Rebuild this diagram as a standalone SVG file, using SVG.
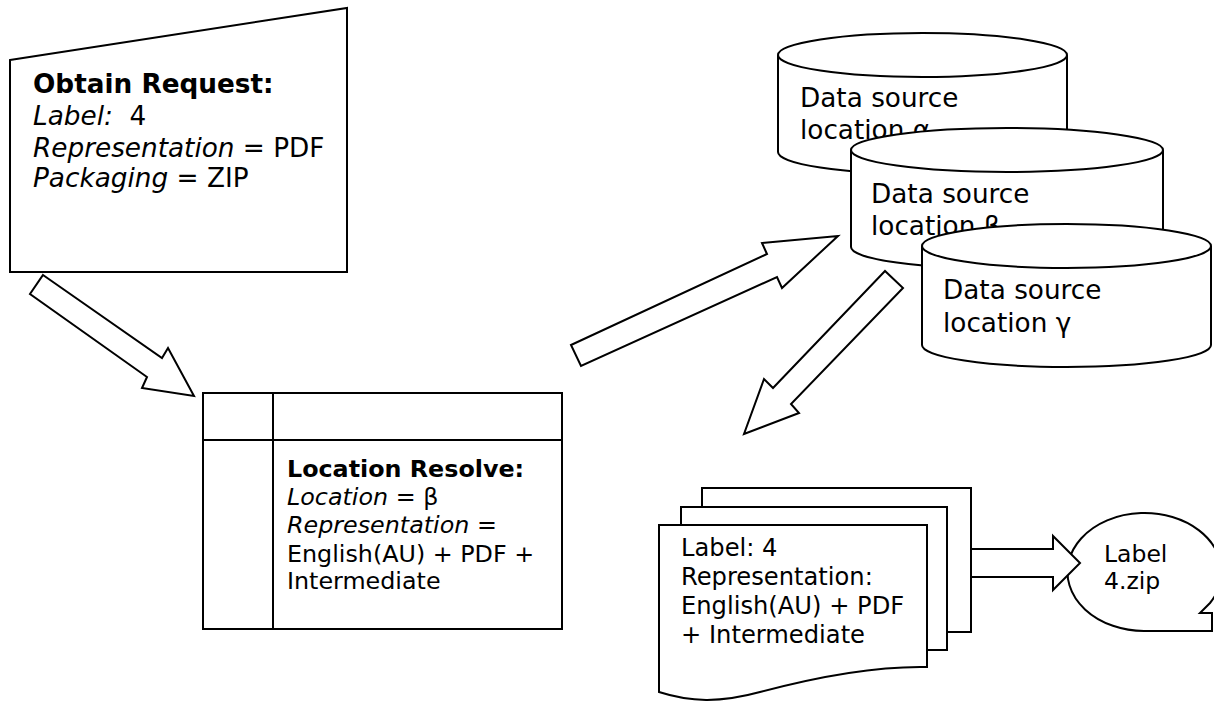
<svg xmlns="http://www.w3.org/2000/svg" width="1214" height="702" viewBox="0 0 1214 702">
<style>
.s{fill:#fff;stroke:#000;stroke-width:2;stroke-linejoin:miter}
.l{fill:none;stroke:#000;stroke-width:2}
text{font-family:"DejaVu Sans","Liberation Sans",sans-serif;fill:#000}
.b{font-weight:bold}
.i{font-style:italic}
.t1{font-size:26.3px}
.t2{font-size:23.8px}
.tc{font-size:26.3px}
.td{font-size:24.2px}
.tl{font-size:23.5px}
</style>
<rect width="1214" height="702" fill="#fff"/>
<g id="obtain-request">
<polygon class="s" points="10,60 347,8 347,272 10,272"/>
<text class="t1" x="33" y="93"><tspan class="b">Obtain Request:</tspan></text>
<text class="t1" x="33" y="125" xml:space="preserve"><tspan class="i">Label:</tspan>  4</text>
<text class="t1" x="33" y="157"><tspan class="i">Representation</tspan> = PDF</text>
<text class="t1" x="33" y="187"><tspan class="i">Packaging</tspan> = ZIP</text>
</g>
<g id="location-resolve">
<rect class="s" x="203" y="393" width="359" height="236"/>
<line class="l" x1="273" y1="393" x2="273" y2="629"/>
<line class="l" x1="203" y1="440" x2="562" y2="440"/>
<text class="t2" x="287" y="477"><tspan class="b">Location Resolve:</tspan></text>
<text class="t2" x="287" y="505"><tspan class="i">Location</tspan> = β</text>
<text class="t2" x="287" y="533"><tspan class="i">Representation</tspan> =</text>
<text class="t2" x="287" y="562">English(AU) + PDF +</text>
<text class="t2" x="287" y="589">Intermediate</text>
</g>
<g id="ds-alpha">
<path class="s" d="M778,55 A144.5,22 0 0 1 1067,55 V152 A144.5,22 0 0 1 778,152 Z"/>
<path class="l" d="M778,55 A144.5,22 0 0 0 1067,55"/>
<text class="tc" x="800" y="107">Data source</text>
<text class="tc" x="800" y="139">location α</text>
</g>
<g id="ds-beta">
<path class="s" d="M851,150 A156,22 0 0 1 1163,150 V247 A156,22 0 0 1 851,247 Z"/>
<path class="l" d="M851,150 A156,22 0 0 0 1163,150"/>
<text class="tc" x="871" y="203">Data source</text>
<text class="tc" x="871" y="235">location β</text>
</g>
<g id="ds-gamma">
<path class="s" d="M922,246 A144.5,22 0 0 1 1211,246 V345 A144.5,22 0 0 1 922,345 Z"/>
<path class="l" d="M922,246 A144.5,22 0 0 0 1211,246"/>
<text class="tc" x="943" y="299">Data source</text>
<text class="tc" x="943" y="332">location γ</text>
</g>
<g id="documents">
<rect class="s" x="702" y="488" width="269" height="144"/>
<rect class="s" x="681" y="507" width="266" height="143"/>
<path class="s" d="M659,525 H927 V667 C880,666 820,676 760,692 C720,703 690,702 659,692 Z"/>
<text class="td" x="681" y="556">Label: 4</text>
<text class="td" x="681" y="585">Representation:</text>
<text class="td" x="681" y="614">English(AU) + PDF</text>
<text class="td" x="681" y="643">+ Intermediate</text>
</g>
<g id="package">
<path class="s" d="M1210,603 A77,59 0 1 0 1144,631 H1212 V613 H1200 Z"/>
<text class="tl" x="1104" y="562">Label</text>
<text class="tl" x="1104" y="589">4.zip</text>
</g>
<g id="connectors">
<polygon class="s" points="43,275 162,358 168,348 194,396 142,388 147,377 30,294"/>
<polygon class="s" points="571,345 767,254 762,243 838,236 782,288 777,277 581,366"/>
<polygon class="s" points="885,271 773,388 764,379 744,434 799,413 791,404 903,288"/>
<polygon class="s" points="971,549 1053,549 1053,536 1080,563 1053,590 1053,577 971,577"/>
</g>
</svg>
